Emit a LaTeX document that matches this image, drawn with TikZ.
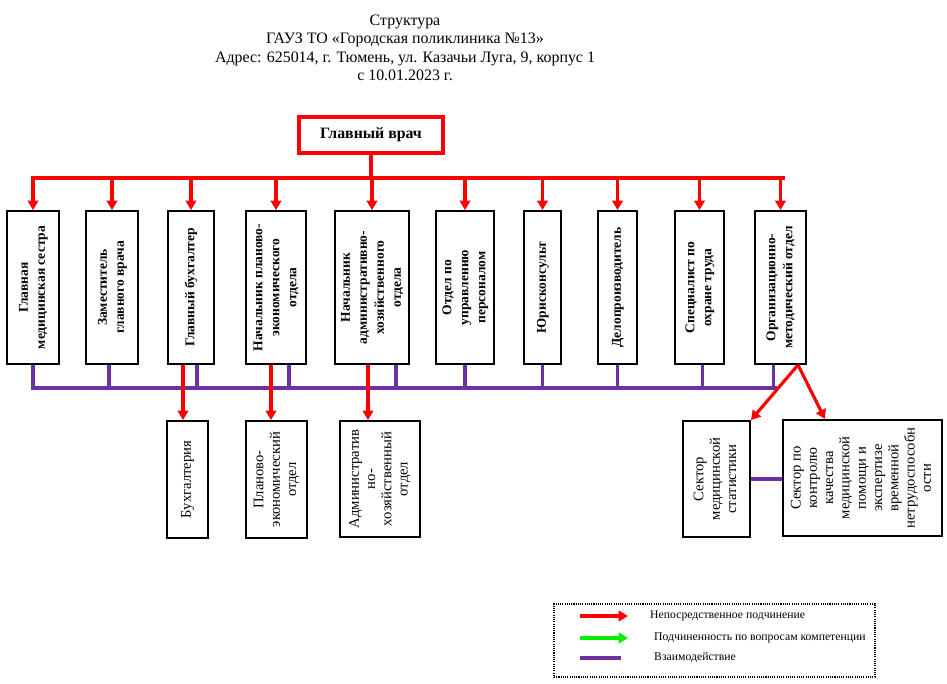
\documentclass[tikz,border=0pt]{standalone}
\usepackage{fontspec}
\setmainfont{Liberation Serif}
\usepackage{tikz}
\usetikzlibrary{arrows.meta}
\definecolor{orgred}{RGB}{255,0,0}
\definecolor{orgpurple}{RGB}{112,48,160}
\definecolor{orggreen}{RGB}{0,240,0}
\newcommand{\vtext}[1]{\rotatebox{90}{\begin{tabular}{@{}c@{}}#1\end{tabular}}}
\tikzset{
    topbox/.style={shape=rectangle, draw=black, line width=1.6pt, inner sep=0pt, minimum height=4.59cm,
        font=\bfseries\fontsize{11.5}{14.5}\selectfont},
    lowbox/.style={shape=rectangle, draw=black, line width=1.6pt, inner sep=0pt,
        font=\fontsize{12.5}{13.9}\selectfont},
    redline/.style={draw=orgred, line width=2.7pt},
    redarrow/.style={redline, -{Triangle[width=9pt,length=8pt]}},
    greenarrow/.style={draw=orggreen, line width=2.7pt, -{Triangle[width=9pt,length=8pt]}},
    purpleline/.style={draw=orgpurple, line width=2.7pt}
}

\begin{document}
\begin{tikzpicture}[x=0.03cm, y=-0.03cm]
                \useasboundingbox (0,0) rectangle (947,684);

                    \node[align=center, font=\fontsize{13.6}{15.8}\selectfont] (Z) at (405,48)
                        {Структура\\ГАУЗ ТО «Городская поликлиника №13»\\Адрес: 625014, г. Тюмень, ул. Казачьи Луга, 9, корпус 1\\с 10.01.2023 г.};

                    \node[shape=rectangle, draw=orgred, line width=2.7pt, minimum width=4.32cm, minimum height=1.08cm,
                        font=\bfseries\fontsize{13.5}{16}\selectfont] (A) at (371,135) {Главный врач};

                    \node[topbox, minimum width=1.56cm] (B) at (33,287.5) {\vtext{Главная\\медицинская сестра}};
                    \node[topbox, minimum width=1.56cm] (C) at (112,287.5) {\vtext{Заместитель\\главного врача}};
                    \node[topbox, minimum width=1.38cm] (D) at (191,287.5) {\vtext{Главный бухгалтер}};
                    \node[topbox, minimum width=1.8cm] (E) at (276,287.5) {\vtext{Начальник планово-\\экономического\\отдела}};
                    \node[topbox, minimum width=2.22cm] (F) at (372,287.5) {\vtext{Начальник\\административно-\\хозяйственного\\отдела}};
                    \node[topbox, minimum width=1.74cm] (G) at (465,287.5) {\vtext{Отдел по\\управлению\\персоналом}};
                    \node[topbox, minimum width=1.11cm] (H) at (542.5,287.5) {\vtext{Юрисконсульт}};
                    \node[topbox, minimum width=1.17cm] (I) at (617.5,287.5) {\vtext{Делопроизводитель}};
                    \node[topbox, minimum width=1.47cm] (J) at (699.5,287.5) {\vtext{Специалист по\\охране труда}};
                    \node[topbox, minimum width=1.53cm] (K) at (780.5,287.5) {\vtext{Организационно-\\методический отдел}};

                    \node[lowbox, minimum width=1.23cm, minimum height=3.51cm] (L) at (187.5,479.5) {\vtext{Бухгалтерия}};
                    \node[lowbox, minimum width=1.83cm, minimum height=3.51cm] (M) at (276.5,479.5) {\vtext{Планово-\\экономический\\отдел}};
                    \node[lowbox, minimum width=2.4cm, minimum height=3.48cm] (N) at (380,479) {\vtext{Административ\\но-\\хозяйственный\\отдел}};
                    \node[lowbox, minimum width=2.01cm, minimum height=3.48cm] (O) at (716.5,479) {\vtext{Сектор\\медицинской\\статистики}};
                    \node[lowbox, minimum width=4.77cm, minimum height=3.48cm] (P) at (862.5,478) {\vtext{Сектор по\\контролю\\качества\\медицинской\\помощи и\\экспертизе\\временной\\нетрудоспособн\\ости}};

                    % red bus
                    \coordinate (rL) at (33,178);
                    \coordinate (rR) at (783,178);
                    \draw[redline] (A.south) -- (A.south |- rL);
                    \draw[redline, line cap=rect] (rL) -- (rR);
                    \foreach \n in {B,C,D,E,F,G,H,I,J,K}
                        \draw[redarrow] (\n.north |- rL) -- (\n.north);

                    % purple bus
                    \coordinate (pL) at (33,388);
                    \coordinate (pR) at (775,388);
                    \draw[purpleline, line cap=rect] (pL) -- (pR);
                    \draw[purpleline] (B.south) -- (B.south |- pL);
                    \draw[purpleline] ([xshift=-0.09cm]C.south) -- ([xshift=-0.09cm]C.south |- pL);
                    \draw[purpleline] ([xshift=0.18cm]D.south) -- ([xshift=0.18cm]D.south |- pL);
                    \draw[purpleline] ([xshift=0.39cm]E.south) -- ([xshift=0.39cm]E.south |- pL);
                    \draw[purpleline] ([xshift=0.72cm]F.south) -- ([xshift=0.72cm]F.south |- pL);
                    \draw[purpleline] (G.south) -- (G.south |- pL);
                    \draw[purpleline] (H.south) -- (H.south |- pL);
                    \draw[purpleline] (I.south) -- (I.south |- pL);
                    \draw[purpleline] ([xshift=0.09cm]J.south) -- ([xshift=0.09cm]J.south |- pL);
                    \draw[purpleline] ([xshift=-0.2cm]K.south) -- ([xshift=-0.2cm]K.south |- pL);

                    % lower level
                    \draw[redarrow] ([xshift=-0.24cm]D.south) -- ([xshift=-0.24cm]D.south |- L.north);
                    \draw[redarrow] ([xshift=-0.15cm]E.south) -- ([xshift=-0.15cm]E.south |- M.north);
                    \draw[redarrow] ([xshift=-0.12cm]F.south) -- ([xshift=-0.12cm]F.south |- N.north);
                    \draw[redarrow] ([xshift=0.525cm]K.south) -- (O.north east);
                    \draw[redarrow] ([xshift=0.525cm]K.south) -- ([xshift=-1.125cm]P.north);
                    \draw[purpleline] (O.east) -- (O.east -| P.west);

                    % legend
                    \node[shape=rectangle, draw=black, densely dotted, line width=0.9pt, minimum width=9.63cm, minimum height=2.19cm] (Q) at (714.5,640.5) {};
                    \node[anchor=west, inner sep=0pt, font=\fontsize{10}{12}\selectfont] (R) at (650,616) {Непосредственное подчинение};
                    \node[anchor=west, inner sep=0pt, font=\fontsize{10}{12}\selectfont] (S) at (654,638) {Подчиненность по вопросам компетенции};
                    \node[anchor=west, inner sep=0pt, font=\fontsize{10}{12}\selectfont] (T) at (654,658) {Взаимодействие};
                    \coordinate (r1) at (580,616);
                    \coordinate (r2) at (628,616);
                    \coordinate (g1) at (580,638);
                    \coordinate (g2) at (628,638);
                    \coordinate (v1) at (580,658);
                    \coordinate (v2) at (621,658);
                    \draw[redarrow] (r1) -- (r2);
                    \draw[greenarrow] (g1) -- (g2);
                    \draw[purpleline] (v1) -- (v2);

                \end{tikzpicture}
\end{document}
